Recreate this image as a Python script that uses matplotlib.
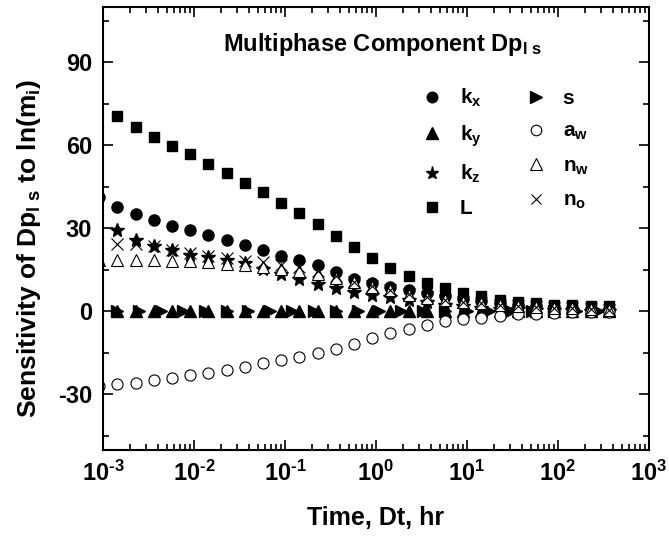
import numpy as np
import matplotlib
matplotlib.use("Agg")
import matplotlib.pyplot as plt
from matplotlib.ticker import FixedLocator, NullFormatter

plt.rcParams['font.family'] = ['Liberation Sans', 'DejaVu Sans']
plt.rcParams['font.weight'] = 'bold'
plt.rcParams['mathtext.fontset'] = 'custom'
plt.rcParams['mathtext.rm'] = 'Liberation Sans:bold'
plt.rcParams['mathtext.bf'] = 'Liberation Sans:bold'
plt.rcParams['mathtext.it'] = 'Liberation Sans:bold'
plt.rcParams['mathtext.default'] = 'bf'

# Time grid, hr (first entry sits just left of the plotted range)
time_hr = [0.00091, 0.00144, 0.00228, 0.00362, 0.00574, 0.00909, 0.0144, 0.0228,
           0.0362, 0.0574, 0.0909, 0.144, 0.228, 0.362, 0.574, 0.909, 1.44,
           2.28, 3.62, 5.74, 9.09, 14.4, 22.8, 36.2, 57.4, 90.9, 144, 228, 362]

# Time grid for the skin-factor response
time_s = [0.00144, 0.00250, 0.00435, 0.00755, 0.0131, 0.0228, 0.0396, 0.0689,
          0.120, 0.208, 0.361, 0.628, 1.09, 1.90, 3.30, 5.73, 9.95, 17.3,
          30.1, 52.2, 90.8, 158, 274]

nan = np.nan
sens_kx = [41.5, 37.7, 35.2, 32.9, 31.0, 29.3, 27.5, 25.8, 24.0, 22.2, 20.2,
           18.7, 16.7, 14.3, 11.8, 10.3, 8.9, 7.7, 6.5, 5.5, 4.5, 3.7, 3.0,
           2.5, 2.0, 1.6, 1.3, 1.0, 0.8]
sens_ky = [nan] + [0.0] * 28
sens_kz = [nan, 29.5, 25.9, 23.8, 22.1, 20.5, 19.7, 18.7, 17.5, 15.4, 13.6,
           11.8, 10.0, 8.5, 7.0, 6.0, 5.2, 4.3, 3.3, 2.5, 1.8, 1.3, 1.0,
           0.8, 0.6, 0.5, 0.4, 0.3, 0.3]
sens_L = [nan, 70.8, 66.7, 63.1, 59.9, 56.8, 53.4, 50.1, 46.5, 43.0, 39.3,
          35.4, 31.6, 27.4, 23.3, 19.3, 15.7, 12.7, 10.3, 8.3, 6.7, 5.5,
          4.3, 3.3, 2.9, 2.5, 2.3, 1.9, 1.8]
sens_s = [0.0] * 23
sens_aw = [-27.0, -26.3, -25.7, -24.8, -24.0, -23.0, -22.1, -21.0, -19.9,
           -18.8, -17.5, -16.3, -15.0, -13.4, -11.6, -9.7, -7.8, -6.2, -4.9,
           -3.5, -2.8, -2.2, -1.6, -1.1, -0.8, -0.5, -0.3, -0.2, -0.1]
sens_nw = [18.7, 18.7, 18.7, 18.7, 18.4, 18.1, 17.8, 17.3, 16.7, 16.1, 15.4,
           14.7, 13.4, 12.1, 10.5, 8.8, 7.6, 6.1, 4.9, 4.0, 3.4, 3.0, 2.5,
           2.0, 1.7, 1.4, 1.1, 0.9, 0.7]
sens_no = [nan, 24.4, 24.4, 23.5, 22.3, 21.1, 20.2, 19.3, 18.4, 17.8, 16.9,
           16.0, 14.5, 12.8, 10.8, 9.2, 7.8, 6.4, 5.2, 4.2, 3.5, 3.0, 2.5,
           2.0, 1.7, 1.4, 1.1, 0.9, 0.7]

labels = [r'k$_\mathbf{x}$', r'k$_\mathbf{y}$', r'k$_\mathbf{z}$', 'L',
          's', r'a$_\mathbf{w}$', r'n$_\mathbf{w}$', r'n$_\mathbf{o}$']

xticks = [1e-3, 1e-2, 1e-1, 1e0, 1e1, 1e2, 1e3]
xtick_labels = [r'10$^{\text{-}3}$', r'10$^{\text{-}2}$', r'10$^{\text{-}1}$',
                r'10$^{0}$', r'10$^{1}$', r'10$^{2}$', r'10$^{3}$']
yticks = [-30, 0, 30, 60, 90]

fig = plt.figure(figsize=(6.69, 5.40), dpi=100)
ax = fig.add_axes([0.154, 0.167, 0.816, 0.820])

ms = 8.0
kw_fill = dict(linestyle='none', color='black', clip_on=True)
kw_open = dict(linestyle='none', markerfacecolor='white', markeredgecolor='black',
               markeredgewidth=0.8, clip_on=True)

h_kx, = ax.plot(time_hr, sens_kx, marker='o', markersize=ms, **kw_fill)
h_ky, = ax.plot(time_hr, sens_ky, marker='^', markersize=ms + 0.5, **kw_fill)
h_kz, = ax.plot(time_hr, sens_kz, marker='*', markersize=ms + 2.0, **kw_fill)
h_L, = ax.plot(time_hr, sens_L, marker='s', markersize=ms - 0.8, **kw_fill)
h_s, = ax.plot(time_s, sens_s, marker='>', markersize=ms + 0.5, **kw_fill)
h_aw, = ax.plot(time_hr, sens_aw, marker='o', markersize=ms, **kw_open)
h_nw, = ax.plot(time_hr, sens_nw, marker='^', markersize=ms + 0.5, **kw_open)
h_no, = ax.plot(time_hr, sens_no, marker='x', markersize=ms, color='black',
                linestyle='none', markeredgewidth=0.8)

ax.set_xscale('log')
ax.set_xlim(1e-3, 1e3)
ax.set_ylim(-50, 110)
ax.set_xticks(xticks)
ax.set_xticklabels(xtick_labels)
ax.xaxis.set_minor_locator(FixedLocator(
    [m * 10.0 ** e for e in range(-3, 3) for m in range(2, 10)]))
ax.xaxis.set_minor_formatter(NullFormatter())
ax.set_yticks(yticks)
ax.set_yticklabels([str(v) for v in yticks])
ax.yaxis.set_minor_locator(FixedLocator([-45, -15, 15, 45, 75, 105]))

ax.tick_params(which='both', direction='in', top=True, right=True,
               labelsize=17, width=1.2, pad=8)
ax.tick_params(which='major', length=7)
ax.tick_params(which='minor', length=4)
for sp in ax.spines.values():
    sp.set_linewidth(1.5)

ax.text(0.22, 0.9, r'Multiphase Component Dp$_\mathbf{l\ s}$',
        transform=ax.transAxes, fontsize=17, fontweight='bold')

ax.set_xlabel('Time, Dt, hr', fontsize=18, fontweight='bold')
ax.xaxis.set_label_coords(0.50, -0.128)
ax.set_ylabel(r'Sensitivity of Dp$_\mathbf{l\ s}$ to ln(m$_\mathbf{i}$)',
              fontsize=19, fontweight='bold')
ax.yaxis.set_label_coords(-0.11, 0.455)

ax.legend([h_kx, h_ky, h_kz, h_L, h_s, h_aw, h_nw, h_no], labels,
          ncol=2, frameon=False, loc='upper left',
          bbox_to_anchor=(0.55, 0.862), fontsize=15, handlelength=1.0,
          handletextpad=0.8, columnspacing=2.1, labelspacing=0.68,
          markerscale=0.95)

fig.savefig('out.png', dpi=100)
